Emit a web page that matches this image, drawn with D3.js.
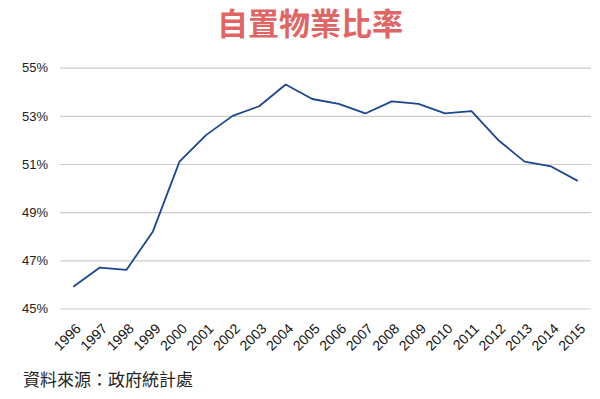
<!DOCTYPE html>
<html>
<head>
<meta charset="utf-8">
<script src="https://cdn.jsdelivr.net/npm/d3@7"></script>
<style>
  body { margin: 0; background: #fff; }
  svg { display: block; }
</style>
</head>
<body>
<svg id="chart" width="600" height="399"></svg>
<script>
// data
const years = ['1996', '1997', '1998', '1999', '2000', '2001', '2002', '2003', '2004', '2005',
    '2006', '2007', '2008', '2009', '2010', '2011', '2012', '2013', '2014', '2015']
const ownership = [45.9, 46.7, 46.6, 48.2, 51.1, 52.2, 53.0, 53.4, 54.3, 53.7,
    53.5, 53.1, 53.6, 53.5, 53.1, 53.2, 52.0, 51.1, 50.9, 50.3]
const yTicks = [45, 47, 49, 51, 53, 55]

const title = '自置物業比率'
const source = '資料來源：政府統計處'

const svg = d3.select('#chart')

const x = d3.scaleBand()
    .domain(years)
    .range([60, 591])

const y = d3.scaleLinear()
    .domain([45, 55])
    .range([308.5, 67.7])

// title
svg.append('text')
    .attr('x', 310)
    .attr('y', 35)
    .attr('text-anchor', 'middle')
    .style('font-family', '"Noto Sans CJK TC", "Noto Sans CJK SC", sans-serif')
    .style('font-weight', 'bold')
    .style('font-size', '31px')
    .style('fill', '#e06666')
    .text(title)

// gridlines + y labels
const yAxis = d3.axisLeft(y)
    .tickValues(yTicks)
    .tickSize(-(591 - 60))
    .tickPadding(12)
    .tickFormat(d => d + '%')

const yG = svg.append('g')
    .attr('transform', 'translate(60,0)')
    .call(yAxis)

yG.select('.domain').remove()
yG.selectAll('.tick line')
    .attr('stroke', '#cccccc')
    .attr('stroke-width', 1.2)
yG.selectAll('.tick text')
    .attr('x', -12)
    .style('font-family', '"Liberation Sans", Arial, sans-serif')
    .style('font-size', '13px')
    .style('fill', '#222')

// x labels, rotated
const xAxis = d3.axisBottom(x)
    .tickSize(0)
    .tickPadding(0)

const xG = svg.append('g')
    .attr('transform', 'translate(0,314)')
    .call(xAxis)

xG.select('.domain').remove()
xG.selectAll('.tick text')
    .attr('text-anchor', 'end')
    .attr('dy', '0.35em')
    .attr('transform', 'translate(5,12) rotate(-45)')
    .style('font-family', '"Liberation Sans", Arial, sans-serif')
    .style('font-size', '14px')
    .style('fill', '#111')

// the line
const line = d3.line()
    .x((d, i) => x(years[i]) + x.bandwidth() / 2)
    .y(d => y(d))

svg.append('path')
    .datum(ownership)
    .attr('d', line)
    .attr('fill', 'none')
    .attr('stroke', '#1c4592')
    .attr('stroke-width', 1.8)
    .attr('stroke-linejoin', 'round')

// source note
svg.append('text')
    .attr('x', 23)
    .attr('y', 386)
    .style('font-family', '"Noto Sans CJK TC", sans-serif')
    .style('font-size', '17px')
    .style('fill', '#222')
    .text(source)
</script>
</body>
</html>
